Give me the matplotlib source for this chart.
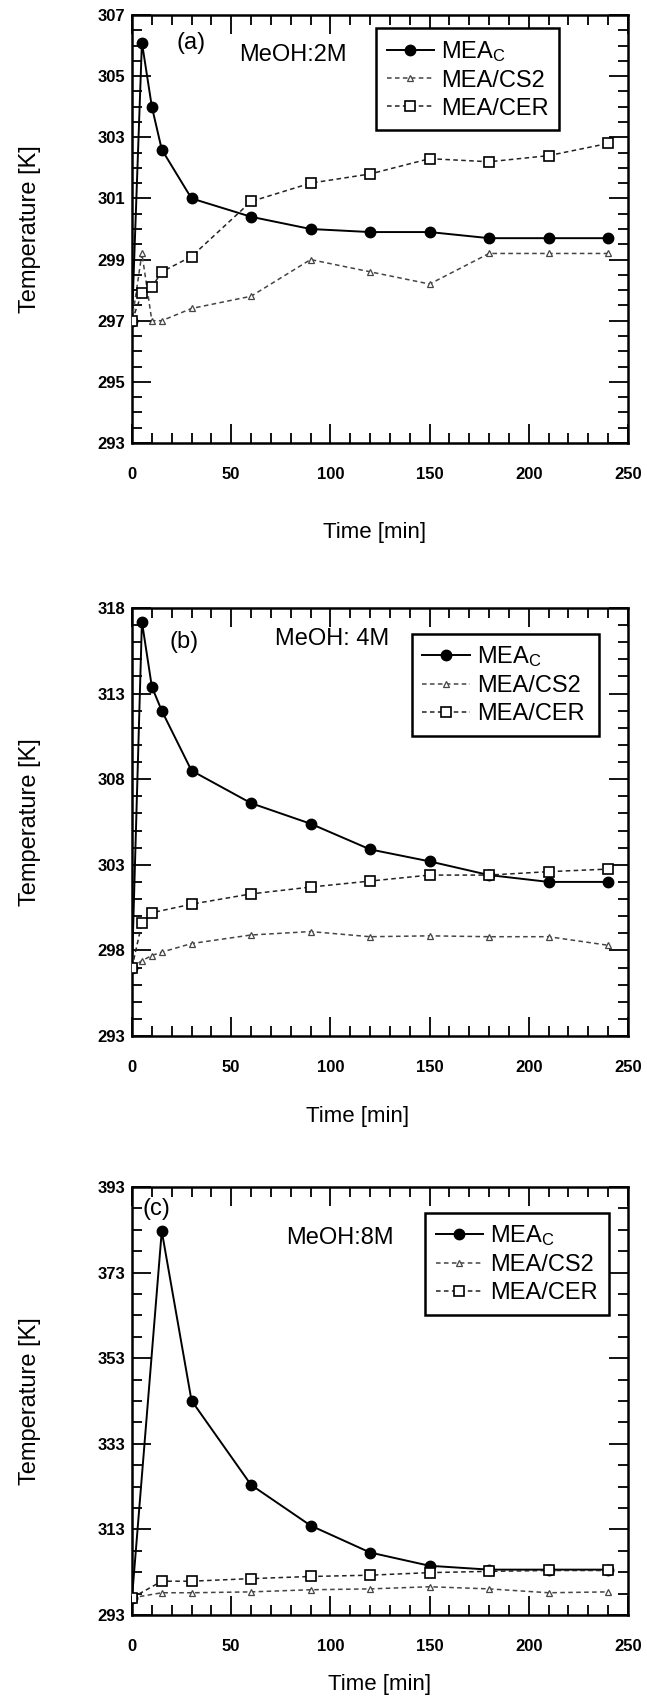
import matplotlib
matplotlib.use("Agg")
import matplotlib.pyplot as plt
from matplotlib.ticker import MultipleLocator

plt.rcParams["font.family"] = ["Liberation Sans", "DejaVu Sans"]
plt.rcParams["mathtext.default"] = "regular"

# ---- data ----
# (a) MeOH 2M
t_a = [0, 5, 10, 15, 30, 60, 90, 120, 150, 180, 210, 240]
mea_a = [297.0, 306.1, 304.0, 302.6, 301.0, 300.4, 300.0, 299.9, 299.9, 299.7, 299.7, 299.7]
cs2_a = [297.0, 299.2, 297.0, 297.0, 297.4, 297.8, 299.0, 298.6, 298.2, 299.2, 299.2, 299.2]
cer_a = [297.0, 297.9, 298.1, 298.6, 299.1, 300.9, 301.5, 301.8, 302.3, 302.2, 302.4, 302.8]

# (b) MeOH 4M
t_b = [0, 5, 10, 15, 30, 60, 90, 120, 150, 180, 210, 240]
mea_b = [297.0, 317.2, 313.4, 312.0, 308.5, 306.6, 305.4, 303.9, 303.2, 302.4, 302.0, 302.0]
cs2_b = [297.0, 297.4, 297.7, 297.9, 298.4, 298.9, 299.1, 298.8, 298.85, 298.8, 298.8, 298.3]
t_b_cer = [0, 5, 10, 30, 60, 90, 120, 150, 180, 210, 240]
cer_b = [297.0, 299.6, 300.2, 300.7, 301.3, 301.7, 302.05, 302.4, 302.4, 302.6, 302.75]

# (c) MeOH 8M
t_c = [0, 15, 30, 60, 90, 120, 150, 180, 210, 240]
mea_c = [297.0, 382.7, 343.1, 323.4, 313.9, 307.6, 304.5, 303.6, 303.6, 303.6]
cs2_c = [297.0, 298.2, 298.2, 298.4, 298.9, 299.1, 299.6, 299.1, 298.2, 298.4]
cer_c = [297.0, 300.9, 300.9, 301.5, 302.0, 302.3, 302.9, 303.2, 303.4, 303.4]

panels = [
    dict(tag="(a)", note="MeOH:2M", t=t_a, mea=mea_a, t_cs2=t_a, cs2=cs2_a, t_cer=t_a, cer=cer_a,
         ylim=(293, 307), major=2, minor=0.5, tag_xy=(30, 306.1), note_xy=(81, 305.7),
         leg=(0.492, 0.969, 0.369), xlab=(0.49, -0.185), top=15),
    dict(tag="(b)", note="MeOH: 4M", t=t_b, mea=mea_b, t_cs2=t_b, cs2=cs2_b, t_cer=t_b_cer, cer=cer_b,
         ylim=(293, 318), major=5, minor=1, tag_xy=(26, 316.0), note_xy=(101, 316.2),
         leg=(0.564, 0.94, 0.378), xlab=(0.455, -0.163), top=608),
    dict(tag="(c)", note="MeOH:8M", t=t_c, mea=mea_c, t_cs2=t_c, cs2=cs2_c, t_cer=t_c, cer=cer_c,
         ylim=(293, 393), major=20, minor=5, tag_xy=(12.4, 387.8), note_xy=(104.6, 381.1),
         leg=(0.591, 0.94, 0.37), xlab=(0.5, -0.138), top=1187),
]

W, H = 647, 1707
fig = plt.figure(figsize=(W / 100, H / 100), dpi=100)
ax_h = 428
left, right = 132, 628

dash = (0, (3, 2.2))
for p in panels:
    top = p["top"]
    ax = fig.add_axes([left / W, 1 - (top + ax_h) / H, (right - left) / W, ax_h / H])
    ax.plot(p["t"], p["mea"], "-", color="black", lw=1.4, marker="o", ms=7.5,
            mfc="black", mec="black", label="MEA$_{C}$", zorder=3)
    ax.plot(p["t_cs2"], p["cs2"], linestyle=dash, color="#444444", lw=1.1, marker="^", ms=4.5,
            mfc="white", mec="#444444", mew=0.9, label="MEA/CS2", zorder=4)
    ax.plot(p["t_cer"], p["cer"], linestyle=dash, color="#222222", lw=1.1, marker="s", ms=7.5,
            mfc="white", mec="black", mew=1.2, label="MEA/CER", zorder=5)

    lo, hi = p["ylim"]
    ax.set_xlim(0, 250)
    ax.set_ylim(lo, hi)
    ax.xaxis.set_major_locator(MultipleLocator(50))
    ax.xaxis.set_minor_locator(MultipleLocator(10))
    ax.yaxis.set_major_locator(MultipleLocator(p["major"], offset=lo % p["major"]))
    ax.yaxis.set_minor_locator(MultipleLocator(p["minor"], offset=lo % p["minor"]))
    ax.tick_params(which="both", direction="in", top=True, right=True, width=1.3)
    ax.tick_params(which="major", length=14, labelsize=12)
    ax.tick_params(which="minor", length=7)
    ax.tick_params(axis="x", which="major", pad=17)
    ax.tick_params(axis="y", which="major", pad=5)
    for lab in ax.get_xticklabels() + ax.get_yticklabels():
        lab.set_fontweight("bold")
    for s in ax.spines.values():
        s.set_linewidth(1.8)

    ax.set_ylabel("Temperature [K]", fontsize=17)
    ax.yaxis.set_label_coords(-0.183, 0.5)
    ax.set_xlabel("Time [min]", fontsize=16)
    ax.xaxis.set_label_coords(*p["xlab"])

    ax.text(*p["tag_xy"], p["tag"], fontsize=17, ha="center", va="center")
    ax.text(*p["note_xy"], p["note"], fontsize=17, ha="center", va="center")

    x0, ytop, w = p["leg"]
    leg = ax.legend(loc="upper left", bbox_to_anchor=(x0, ytop, w, 0), mode="expand",
                    fontsize=17, frameon=True, fancybox=False, edgecolor="black",
                    framealpha=1, handlelength=2.0, handletextpad=0.3, borderpad=0.45,
                    labelspacing=0.25, borderaxespad=0)
    leg.get_frame().set_linewidth(1.8)

fig.savefig("out.png", dpi=100)
